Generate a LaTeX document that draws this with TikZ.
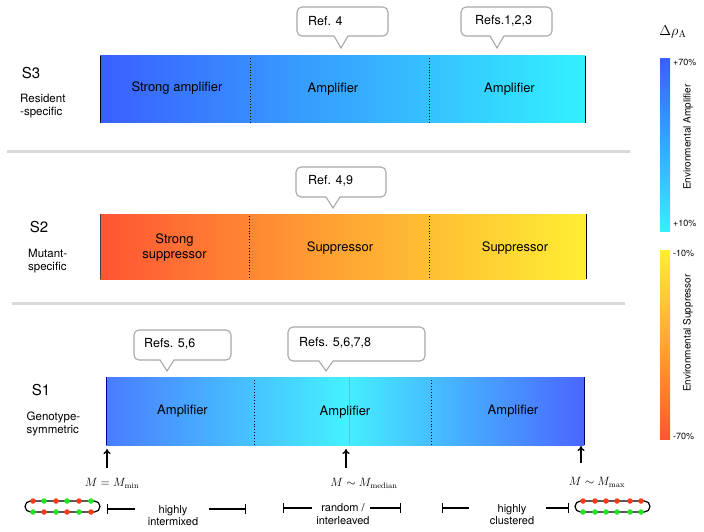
\documentclass[tikz,border=0pt]{standalone}
\usepackage[no-math]{fontspec}
\setmainfont{TeX Gyre Heros}
\usetikzlibrary{arrows.meta}
\definecolor{sthreeL}{HTML}{3A5FFF}
\definecolor{sthreeR}{HTML}{33F0FF}
\definecolor{stwoL}{HTML}{FF5533}
\definecolor{stwoM}{HTML}{FFA533}
\definecolor{stwoR}{HTML}{FFEE33}
\definecolor{soneL}{HTML}{4A7CFF}
\definecolor{soneM}{HTML}{44F0FF}
\definecolor{soneR}{HTML}{4A66FF}
\definecolor{calloutgray}{HTML}{A8A8A8}
\definecolor{sepgray}{HTML}{D9D9D9}
\definecolor{dotred}{HTML}{FF3A1A}
\definecolor{dotgreen}{HTML}{22E622}
\tikzset{
  barlabel/.style={inner sep=0pt, font=\fontsize{13}{15}\selectfont, align=center},
  slabel/.style={inner sep=0pt, font=\fontsize{15}{17}\selectfont},
  sdesc/.style={inner sep=0pt, anchor=west, font=\fontsize{11.5}{13}\selectfont, align=left},
  calloutbox/.style={draw=calloutgray, fill=white, line width=1.1pt, rounded corners=5pt},
  callouttext/.style={inner sep=0pt, anchor=west, font=\fontsize{12.5}{14}\selectfont},
  dotsep/.style={black, line width=0.9pt, dotted},
  sepline/.style={sepgray, line width=3pt},
  uparrow/.style={-{To[length=5pt,width=7pt]}, line width=1.3pt},
  mathlabel/.style={inner sep=0pt, font=\fontsize{12}{14}\selectfont},
  bottomtext/.style={inner sep=0pt, align=center, font=\fontsize{11}{12.5}\selectfont},
  dimline/.style={line width=1.4pt, {Bar[width=10pt]}-},
  cbarlabel/.style={inner sep=0pt, anchor=west, font=\fontsize{9}{10}\selectfont},
  cbartitle/.style={inner sep=0pt, rotate=90, font=\fontsize{10}{11}\selectfont},
  chain/.style={line width=1.2pt, rounded corners=5.5pt},
  rdot/.style={circle, fill=dotred, inner sep=0pt, minimum size=5.5pt},
  gdot/.style={circle, fill=dotgreen, inner sep=0pt, minimum size=5.5pt},
}
\newcommand{\mycallout}[7]{% name, x1, y1, x2, y2, tipx, tipy
  \draw[calloutbox] (#2,#3) rectangle (#4,#5);
  \fill[white] ({#6-7},{#5-1.2}) -- (#6,#7) -- ({#6+7},{#5-1.2}) -- cycle;
  \draw[calloutgray, line width=1.1pt, line join=miter] ({#6-7},#5) -- (#6,#7) -- ({#6+7},#5);
}
\begin{document}
\begin{tikzpicture}[x=1pt,y=-1pt]
\useasboundingbox[fill=white] (0,0) rectangle (704,532);

% ---------- S3 ----------
\shade[left color=sthreeL, right color=sthreeR] (100,56) rectangle (585,123);
\draw[black, line width=1pt] (100,56) -- (100,123);
\draw[black, line width=1pt] (585,56) -- (585,123);
\draw[dotsep] (250,58) -- (250,122);
\draw[dotsep] (429,58) -- (429,122);
\node[barlabel] (s3a) at (177,88) {Strong amplifier};
\node[barlabel] (s3b) at (333,89) {Amplifier};
\node[barlabel] (s3c) at (509.5,89) {Amplifier};
\node[slabel] (s3) at (31,73) {S3};
\node[sdesc] (s3d) at (20,106.5) {Resident\\-specific};
\mycallout{c1}{297}{7}{388}{36}{341}{48}
\node[callouttext] (c1t) at (308,21) {Ref. 4};
\mycallout{c2}{461}{7}{552}{36}{497}{48}
\node[callouttext] (c2t) at (475,21) {Refs.1,2,3};

\draw[sepline] (7,152) -- (630,152);

% ---------- S2 ----------
\shade[left color=stwoL, right color=stwoR, middle color=stwoM] (100,214) rectangle (586,279);
\draw[black!75, line width=1pt] (100,214) -- (100,279);
\draw[black, line width=1pt] (586,214) -- (586,279);
\draw[dotsep] (249,216) -- (249,278);
\draw[dotsep] (429,216) -- (429,278);
\node[barlabel] (s2a) at (174.5,247.5) {Strong\\suppressor};
\node[barlabel] (s2b) at (340,248) {Suppressor};
\node[barlabel] (s2c) at (515,248) {Suppressor};
\node[slabel] (s2) at (39,227) {S2};
\node[sdesc] (s2d) at (28,261) {Mutant-\\specific};
\mycallout{c3}{296}{167}{386}{197}{333}{208}
\node[callouttext] (c3t) at (308,181) {Ref. 4,9};

\draw[sepline] (12,303) -- (625,303);

% ---------- S1 ----------
\shade[left color=soneL, right color=soneR, middle color=soneM] (106,377) rectangle (584,445);
\draw[cyan!70!white, line width=1pt] (349,377) -- (349,445);
\draw[blue!60!black, line width=1pt] (106,377) -- (106,445);
\draw[blue!40!black, line width=1pt] (584,377) -- (584,445);
\draw[dotsep] (254,380) -- (254,444);
\draw[dotsep] (431,380) -- (431,444);
\node[barlabel] (s1a) at (182.5,411) {Amplifier};
\node[barlabel] (s1b) at (345,412) {Amplifier};
\node[barlabel] (s1c) at (513,411) {Amplifier};
\node[slabel] (s1) at (41,390) {S1};
\node[sdesc] (s1d) at (26.5,424) {Genotype-\\symmetric};
\mycallout{c4}{134}{330}{231}{360}{167}{371}
\node[callouttext] (c4t) at (144,344) {Refs. 5,6};
\mycallout{c5}{288}{327}{425}{361}{326}{371}
\node[callouttext] (c5t) at (299,343) {Refs. 5,6,7,8};

% ---------- arrows and M labels ----------
\coordinate (amin) at (107,468);
\coordinate (bmin) at (107,449);
\coordinate (amed) at (346,468);
\coordinate (bmed) at (346,449);
\coordinate (amax) at (581,463);
\coordinate (bmax) at (581,446);
\draw[uparrow] (amin) -- (bmin);
\draw[uparrow] (amed) -- (bmed);
\draw[uparrow] (amax) -- (bmax);
\node[mathlabel] (mmin) at (112,483) {$M = M_{\mathrm{min}}$};
\node[mathlabel] (mmed) at (364,483) {$M \sim M_{\mathrm{median}}$};
\node[mathlabel] (mmax) at (597,482) {$M \sim M_{\mathrm{max}}$};

% ---------- bottom scale ----------
\coordinate (l1a) at (107,509); \coordinate (l1b) at (135,509);
\coordinate (l2a) at (246,509); \coordinate (l2b) at (209,509);
\coordinate (m1a) at (283,508); \coordinate (m1b) at (312,508);
\coordinate (m2a) at (401,508); \coordinate (m2b) at (370,508);
\coordinate (r1a) at (442,508); \coordinate (r1b) at (469,508);
\coordinate (r2a) at (569,508); \coordinate (r2b) at (546,508);
\draw[dimline] (l1a) -- (l1b);
\draw[dimline] (l2a) -- (l2b);
\draw[dimline] (m1a) -- (m1b);
\draw[dimline] (m2a) -- (m2b);
\draw[dimline] (r1a) -- (r1b);
\draw[dimline] (r2a) -- (r2b);
\node[bottomtext] (t1) at (173,515.5) {highly\\intermixed};
\node[bottomtext] (t2) at (343,514) {random /\\interleaved};
\node[bottomtext] (t3) at (512,514.5) {highly\\clustered};

% chains
\draw[chain] (25,501) rectangle (100,512);
\foreach \x/\c in {33/rdot,44/gdot,56/rdot,67/gdot,79/rdot,91/gdot}
  \node[\c] (lt\x) at (\x,501) {};
\foreach \x/\c in {33/gdot,44/rdot,56/gdot,67/rdot,79/gdot,91/rdot}
  \node[\c] (lb\x) at (\x,512) {};
\draw[chain] (575,501) rectangle (650,512);
\foreach \x in {583,595,606,617,630,641}
  \node[rdot] (rt\x) at (\x,501) {};
\foreach \x in {583,595,606,617,630,641}
  \node[gdot] (rb\x) at (\x,512) {};

% ---------- colour bar ----------
\shade[top color=sthreeL, bottom color=sthreeR] (660,59) rectangle (670,231);
\shade[top color=stwoR, bottom color=stwoL, middle color=stwoM] (660,250) rectangle (670,439);
\node[cbarlabel] (p70) at (673,62) {+70\%};
\node[cbarlabel] (p10) at (673,223) {+10\%};
\node[cbarlabel] (m10) at (673,253) {-10\%};
\node[cbarlabel] (m70) at (673,436) {-70\%};
\node[cbartitle] (ea) at (688,137) {Environmental Amplifier};
\node[cbartitle] (es) at (688,333) {Environmental Suppressor};
\node[inner sep=0pt, font=\fontsize{14}{16}\selectfont] (drho) at (673,32) {$\Delta\rho_{\mathrm{A}}$};
\end{tikzpicture}
\end{document}
